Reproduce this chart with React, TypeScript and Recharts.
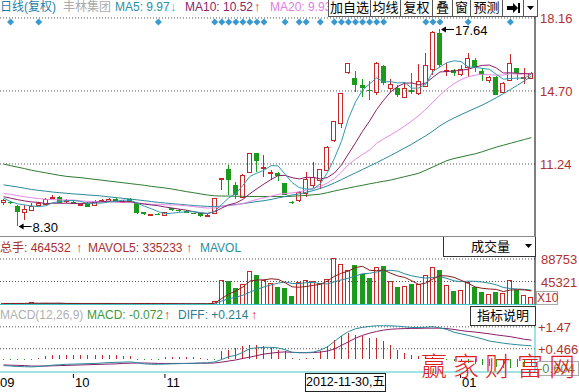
import React from "react";
import {
  ComposedChart,
  Bar,
  Line,
  XAxis,
  YAxis,
  ReferenceLine,
  ReferenceDot,
} from "recharts";

// daily candles, Sep 2012 - Jan 2013
const openP = [
  9.45, 9.45, 9.26, 8.93, 9.06, 9.30, 9.35, 9.62, 9.69, 9.48,
  9.45, 9.30, 9.40, 9.30, 9.52, 9.50, 9.60, 9.48, 9.57, 9.38,
  8.96, 8.84, 8.88, 8.84, 9.14, 9.06, 9.03, 8.90, 8.90, 8.78,
  8.90, 10.50, 10.99, 10.24, 9.69, 10.83, 11.75, 11.10, 10.85, 10.80,
  10.33, 9.43, 9.53, 9.86, 10.24, 10.48, 10.96, 12.38, 13.17, 15.59,
  15.30, 14.98, 14.74, 14.67, 15.89, 14.83, 14.86, 14.40, 14.75, 14.59,
  14.94, 15.75, 17.45, 15.68, 15.70, 15.51, 15.82, 16.17, 15.65, 15.25,
  15.38, 14.67, 15.20, 15.78, 15.34, 15.30,
];
const highP = [
  9.56, 9.47, 9.30, 9.30, 9.41, 9.42, 9.62, 9.75, 9.72, 9.57,
  9.47, 9.36, 9.42, 9.52, 9.60, 9.62, 9.62, 9.52, 9.64, 9.40,
  8.97, 8.88, 8.90, 8.98, 9.16, 9.10, 9.05, 8.92, 8.92, 8.90,
  9.64, 10.58, 11.19, 10.40, 10.75, 11.77, 11.77, 11.67, 10.95, 10.88,
  10.35, 9.47, 9.96, 10.88, 11.35, 11.02, 12.08, 13.30, 14.61, 16.03,
  15.66, 15.25, 15.19, 16.06, 15.91, 15.25, 15.00, 15.10, 15.54, 15.97,
  16.52, 17.55, 17.64, 16.03, 15.72, 15.93, 16.52, 16.25, 15.78, 15.40,
  15.40, 15.12, 16.45, 15.78, 15.78, 15.60,
];
const lowP = [
  9.30, 9.35, 8.30, 8.59, 9.00, 9.28, 9.33, 9.58, 9.40, 9.38,
  9.32, 9.28, 9.20, 9.28, 9.50, 9.48, 9.48, 9.44, 9.44, 8.88,
  8.82, 8.82, 8.80, 8.82, 9.03, 8.98, 8.93, 8.85, 8.75, 8.71,
  8.88, 10.01, 9.77, 9.60, 9.65, 10.80, 10.88, 10.64, 10.48, 10.45,
  9.75, 9.36, 9.45, 9.69, 10.10, 10.05, 10.90, 12.30, 12.93, 15.50,
  14.67, 14.43, 14.27, 14.50, 15.00, 14.67, 14.40, 14.35, 14.55, 14.50,
  14.90, 15.46, 15.85, 15.39, 15.39, 15.39, 15.38, 15.62, 15.19, 15.06,
  14.50, 14.65, 15.15, 15.22, 15.03, 15.28,
];
const closeP = [
  9.53, 9.38, 8.98, 9.09, 9.26, 9.38, 9.57, 9.69, 9.42, 9.51,
  9.34, 9.34, 9.22, 9.50, 9.55, 9.60, 9.50, 9.50, 9.45, 8.90,
  8.86, 8.87, 8.83, 8.96, 9.05, 9.05, 8.95, 8.88, 8.77, 8.80,
  9.61, 10.56, 10.45, 9.77, 10.72, 11.75, 11.35, 11.12, 10.88, 10.64,
  9.77, 9.40, 9.93, 10.53, 10.62, 10.99, 12.06, 13.28, 14.59, 16.01,
  14.98, 14.86, 14.72, 16.04, 15.07, 15.02, 14.54, 14.83, 14.67, 15.15,
  15.93, 17.50, 15.93, 15.70, 15.57, 15.73, 16.25, 15.85, 15.46, 15.38,
  14.51, 15.09, 16.01, 15.54, 15.36, 15.54,
];

const ma5 = [
  9.62, 9.46, 9.35, 9.30, 9.25, 9.22, 9.26, 9.40, 9.46, 9.51,
  9.51, 9.46, 9.37, 9.38, 9.39, 9.44, 9.47, 9.53, 9.52, 9.39,
  9.24, 9.12, 8.98, 8.88, 8.91, 8.95, 8.97, 8.98, 8.94, 8.89,
  9.00, 9.32, 9.64, 9.84, 10.22, 10.65, 10.81, 10.94, 11.16, 11.15,
  10.75, 10.36, 10.12, 10.05, 10.05, 10.30, 10.83, 11.50, 12.31, 13.39,
  14.18, 14.74, 15.03, 15.32, 15.13, 15.14, 15.08, 15.10, 14.83, 14.84,
  15.02, 15.62, 15.84, 16.04, 16.13, 16.09, 15.84, 15.82, 15.77, 15.73,
  15.49, 15.26, 15.29, 15.31, 15.31, 15.51,
];
const ma10 = [
  9.69, 9.62, 9.55, 9.49, 9.44, 9.42, 9.36, 9.38, 9.38, 9.38,
  9.37, 9.36, 9.39, 9.42, 9.45, 9.48, 9.47, 9.45, 9.45, 9.39,
  9.34, 9.30, 9.26, 9.20, 9.15, 9.10, 9.05, 8.98, 8.91, 8.90,
  8.98, 9.15, 9.31, 9.39, 9.56, 9.83, 10.07, 10.29, 10.50, 10.69,
  10.70, 10.59, 10.53, 10.61, 10.60, 10.53, 10.60, 10.81, 11.19, 11.72,
  12.24, 12.79, 13.27, 13.82, 14.26, 14.66, 14.91, 15.07, 15.08, 14.99,
  15.08, 15.35, 15.60, 15.62, 15.65, 15.68, 15.73, 15.83, 15.91, 15.93,
  15.79, 15.55, 15.56, 15.54, 15.52, 15.50,
];
const ma20 = [
  9.85, 9.80, 9.74, 9.69, 9.64, 9.60, 9.57, 9.55, 9.54, 9.53,
  9.53, 9.49, 9.47, 9.46, 9.45, 9.45, 9.42, 9.42, 9.42, 9.39,
  9.36, 9.33, 9.33, 9.31, 9.30, 9.29, 9.26, 9.22, 9.18, 9.15,
  9.16, 9.23, 9.29, 9.30, 9.36, 9.47, 9.56, 9.64, 9.71, 9.80,
  9.84, 9.87, 9.92, 10.00, 10.08, 10.18, 10.34, 10.55, 10.85, 11.21,
  11.47, 11.69, 11.90, 12.22, 12.43, 12.62, 12.82, 13.04, 13.28, 13.54,
  13.84, 14.17, 14.50, 14.80, 15.05, 15.24, 15.37, 15.45, 15.49, 15.47,
  15.45, 15.45, 15.52, 15.49, 15.51, 15.53,
];
const ma30 = [
  10.25, 10.20, 10.15, 10.09, 10.03, 9.99, 9.95, 9.91, 9.88, 9.85,
  9.82, 9.80, 9.77, 9.75, 9.72, 9.68, 9.65, 9.61, 9.58, 9.54,
  9.50, 9.46, 9.42, 9.39, 9.36, 9.33, 9.30, 9.27, 9.25, 9.23,
  9.22, 9.24, 9.27, 9.32, 9.36, 9.41, 9.46, 9.50, 9.56, 9.63,
  9.70, 9.77, 9.82, 9.90, 9.98, 10.08, 10.20, 10.34, 10.50, 10.66,
  10.82, 10.98, 11.14, 11.30, 11.47, 11.64, 11.82, 12.00, 12.18, 12.38,
  12.58, 12.80, 13.05, 13.25, 13.42, 13.58, 13.73, 13.88, 14.03, 14.20,
  14.38, 14.57, 14.77, 14.97, 15.18, 15.40,
];
const ma120 = [
  11.24, 11.16, 11.09, 11.02, 10.94, 10.88, 10.82, 10.76, 10.70, 10.65,
  10.62, 10.59, 10.55, 10.51, 10.47, 10.43, 10.39, 10.35, 10.31, 10.27,
  10.23, 10.18, 10.14, 10.10, 10.05, 9.99, 9.93, 9.88, 9.82, 9.77,
  9.73, 9.72, 9.72, 9.71, 9.71, 9.70, 9.70, 9.70, 9.70, 9.70,
  9.70, 9.71, 9.73, 9.75, 9.78, 9.81, 9.88, 9.96, 10.03, 10.10,
  10.17, 10.23, 10.30, 10.36, 10.42, 10.48, 10.56, 10.64, 10.72, 10.80,
  10.95, 11.10, 11.25, 11.40, 11.50, 11.57, 11.65, 11.72, 11.82, 11.93,
  12.04, 12.13, 12.22, 12.31, 12.40, 12.49,
];

// volume, axis units (x10)
const volume = [
  3000, 2500, 3600, 2800, 5200, 2400, 3300, 3000, 3400, 2000,
  2600, 2200, 2800, 3400, 2300, 3000, 2200, 2400, 2600, 4200,
  3000, 2000, 2200, 2600, 3000, 2000, 2200, 1800, 3000, 2500,
  7900, 47400, 45400, 32200, 40800, 65100, 57200, 47400, 42000, 35500,
  32200, 17800, 44100, 48700, 46450, 42100, 49400, 90200, 78300, 67100,
  77000, 60500, 52000, 73700, 75000, 45400, 34200, 37500, 40800, 40800,
  58600, 73700, 68400, 38800, 27600, 29600, 44100, 34200, 25700, 21100,
  25700, 23000, 48700, 29600, 19100, 15800,
];
const mavol5 = [
  2900, 2850, 2900, 2950, 3400, 3300, 3400, 3300, 3500, 2800,
  2850, 2700, 2600, 2700, 2650, 2750, 2650, 2650, 2500, 2850,
  2850, 2850, 2800, 2800, 2600, 2550, 2400, 2300, 2400, 2300,
  3500, 12500, 21200, 27100, 34700, 46200, 48200, 48600, 50500, 49500,
  42900, 35000, 34300, 35700, 37800, 39800, 46100, 55300, 61300, 65400,
  72400, 74600, 67000, 66100, 67600, 61300, 56100, 53200, 46600, 39700,
  42400, 50300, 56500, 56100, 53400, 47600, 41700, 34900, 32200, 30900,
  30100, 25900, 28800, 29600, 29200, 27200,
];
const mavol10 = [
  3000, 3000, 3000, 3050, 3100, 3100, 3150, 3100, 3150, 3100,
  3050, 3000, 3000, 3000, 3050, 3000, 2700, 2650, 2650, 2700,
  2750, 2750, 2700, 2750, 2650, 2700, 2600, 2550, 2600, 2550,
  3150, 7650, 12000, 14900, 18800, 24800, 30300, 34900, 38800, 42100,
  44500, 41600, 41400, 43100, 43700, 41300, 40500, 44800, 48500, 51600,
  56100, 60400, 61200, 63700, 66500, 66900, 65400, 60100, 56300, 53700,
  51900, 53200, 54800, 51300, 46600, 45000, 46000, 45700, 44200, 42200,
  38900, 33800, 31800, 30900, 30100, 28700,
];

// MACD(12,26,9)
const diff = [
  -0.31, -0.33, -0.35, -0.36, -0.37, -0.35, -0.32, -0.29, -0.27, -0.25,
  -0.24, -0.23, -0.22, -0.21, -0.19, -0.17, -0.16, -0.15, -0.14, -0.18,
  -0.23, -0.25, -0.25, -0.24, -0.23, -0.22, -0.21, -0.2, -0.19, -0.18,
  -0.14, -0.03, 0.1, 0.16, 0.3, 0.47, 0.51, 0.53, 0.53, 0.5,
  0.42, 0.3, 0.28, 0.29, 0.31, 0.4, 0.55, 0.8, 1.05, 1.25,
  1.38, 1.45, 1.49, 1.52, 1.52, 1.52, 1.5, 1.47, 1.44, 1.44,
  1.45, 1.48, 1.42, 1.35, 1.22, 1.15, 1.08, 1.0, 0.92, 0.82,
  0.77, 0.72, 0.68, 0.65, 0.62, 0.6,
];
const dea = [
  -0.28, -0.29, -0.3, -0.31, -0.33, -0.33, -0.33, -0.32, -0.31, -0.3,
  -0.29, -0.28, -0.27, -0.26, -0.25, -0.24, -0.23, -0.21, -0.2, -0.19,
  -0.19, -0.2, -0.21, -0.21, -0.21, -0.21, -0.21, -0.21, -0.2, -0.2,
  -0.19, -0.15, -0.1, -0.05, 0.02, 0.08, 0.15, 0.22, 0.26, 0.3,
  0.32, 0.3, 0.29, 0.28, 0.29, 0.31, 0.36, 0.45, 0.62, 0.78,
  0.95, 1.08, 1.18, 1.26, 1.32, 1.36, 1.38, 1.39, 1.4, 1.4,
  1.41, 1.41, 1.41, 1.39, 1.35, 1.3, 1.26, 1.23, 1.19, 1.15,
  1.1, 1.06, 1.02, 0.96, 0.9, 0.86,
];
const macdBar = [
  -0.02, -0.03, -0.03, -0.02, -0.02, 0.06, 0.14, 0.16, 0.18, 0.18,
  0.17, 0.17, 0.16, 0.17, 0.18, 0.17, 0.16, 0.14, 0.12, -0.02,
  -0.02, -0.02, -0.02, 0.08, 0.09, 0.09, 0.08, 0.07, 0.06, -0.02,
  -0.02, 0.35, 0.42, 0.5, 0.57, 0.65, 0.65, 0.57, 0.5, 0.42,
  0.35, 0.03, -0.02, 0.02, 0.04, 0.35, 0.57, 0.88, 1.07, 1.18,
  1.1, 1.03, 0.95, 0.95, 0.8, 0.65, 0.42, 0.27, 0.19, 0.12,
  0.07, 0.1, 0.04, -0.05, -0.1, -0.15, -0.2, -0.25, -0.3, -0.34,
  -0.38, -0.4, -0.4, -0.39, -0.38, -0.36,
];

// days with info markers (blue diamonds)
const eventDays = [
  1, 5, 22, 30, 31, 32, 33, 34, 35, 36, 37, 40, 42, 43, 45,
  47, 48, 49, 50, 51, 52, 53, 54, 60, 61, 62, 66, 72,
];
const monthTicks = [0, 10, 23, 65];
const monthNames = ["09", "10", "11", "01"];
const priceTicks = [18.16, 14.7, 11.24];
const volTicks = [88753, 45321];
const macdTicks = [1.47, 0.466, -0.604];

const RED = "#c62828";
const GREEN = "#1b9a1b";
const AXIS_RED = "#b0302f";
const SANS = '"Liberation Sans", Arial, "Noto Sans CJK SC", sans-serif';
const MARK_Y = 17.97;

const rows = closeP.map((c, i) => ({
  i,
  open: openP[i],
  high: highP[i],
  low: lowP[i],
  close: c,
  span: [lowP[i], highP[i]],
  ma5: ma5[i],
  ma10: ma10[i],
  ma20: ma20[i],
  ma30: ma30[i],
  ma120: ma120[i],
  vol: volume[i],
  mavol5: mavol5[i],
  mavol10: mavol10[i],
  diff: diff[i],
  dea: dea[i],
  macd: macdBar[i],
}));

const peakIdx = highP.indexOf(Math.max(...highP));
const lowIdx = lowP.indexOf(Math.min(...lowP));

function Candle(props: any) {
  const { x, y, width, height, payload } = props;
  if (x == null || !payload) return null;
  const { open, close, high, low } = payload;
  const top = Math.min(y, y + height);
  const h = Math.abs(height);
  const k = h / (high - low);
  const yO = top + (high - open) * k;
  const yC = top + (high - close) * k;
  const bTop = Math.round(Math.min(yO, yC));
  const bH = Math.max(Math.round(Math.abs(yO - yC)), 1);
  const up = close >= open;
  const c = up ? RED : GREEN;
  const cx = Math.floor(x + width / 2) + 0.5;
  const left = Math.floor(x) + 0.5;
  const w = Math.round(width) - 1;
  return (
    <g shapeRendering="crispEdges">
      <line x1={cx} x2={cx} y1={top} y2={top + h} stroke={c} />
      {up ? (
        <rect x={left} y={bTop + 0.5} width={w} height={bH} fill="#fff" stroke={c} />
      ) : (
        <rect x={left - 0.5} y={bTop} width={w + 1} height={bH} fill={c} />
      )}
    </g>
  );
}

function VolBar(props: any) {
  const { x, y, width, height, payload } = props;
  if (x == null || !payload) return null;
  const up = payload.close >= payload.open;
  const top = Math.round(Math.min(y, y + height));
  const h = Math.max(Math.round(Math.abs(height)), 1);
  const left = Math.floor(x) + 0.5;
  const w = Math.round(width) - 1;
  return up ? (
    <rect x={left} y={top + 0.5} width={w} height={h} fill="#fff" stroke={RED} shapeRendering="crispEdges" />
  ) : (
    <rect x={left - 0.5} y={top} width={w + 1} height={h + 1} fill={GREEN} shapeRendering="crispEdges" />
  );
}

function MacdStick(props: any) {
  const { x, y, width, height, payload } = props;
  if (x == null || !payload) return null;
  const top = Math.min(y, y + height);
  const h = Math.max(Math.abs(height), 1);
  const cx = Math.floor(x + width / 2) + 0.5;
  return (
    <line
      x1={cx}
      x2={cx}
      y1={top}
      y2={top + h}
      stroke={payload.macd >= 0 ? RED : GREEN}
      shapeRendering="crispEdges"
    />
  );
}

const Diamond = (p: any) => (
  <polygon
    points={`${p.cx},${p.cy - 3.5} ${p.cx + 3.5},${p.cy} ${p.cx},${p.cy + 3.5} ${p.cx - 3.5},${p.cy}`}
    fill="#3a9ad0"
  />
);

function ArrowNote(label: string) {
  return (p: any) => {
    const x0 = p.cx + 1;
    const cy = Math.round(p.cy) + 0.5;
    return (
      <g>
        <polygon points={`${x0},${cy} ${x0 + 5},${cy - 3} ${x0 + 5},${cy + 3}`} fill="#000" />
        <line x1={x0 + 4} y1={cy} x2={x0 + 13} y2={cy} stroke="#000" />
        <text x={x0 + 14} y={cy + 5} fontSize={13} fill="#000" fontFamily={SANS}>
          {label}
        </text>
      </g>
    );
  };
}

const PriceTick = (p: any) => (
  <text x={540} y={p.y + 5} fontSize={13} fill={AXIS_RED} fontFamily={SANS}>
    {Number(p.payload.value).toFixed(2)}
  </text>
);

const VolTick = (p: any) => (
  <text x={541} y={p.y + 5} fontSize={13} fill={AXIS_RED} fontFamily={SANS}>
    {p.payload.value}
  </text>
);

const MacdTick = (p: any) => {
  const v = p.payload.value;
  const txt = v > 0 ? `+${v}` : `${v}`;
  const bottom = p.y > 60;
  const yy = bottom ? 63 : p.y;
  return (
    <g>
      {bottom && <rect x={537.5} y={56.5} width={41} height={14} fill="#fff" stroke="#aaa" />}
      <text x={538} y={yy + 5} fontSize={13} fill={bottom ? "#6a8a4a" : AXIS_RED} fontFamily={SANS}>
        {txt}
      </text>
    </g>
  );
};

const MonthTick = (p: any) => {
  const k = monthTicks.indexOf(Number(p.payload.value));
  const name = monthNames[k];
  if (k === 0) {
    return (
      <text x={0} y={p.y + 15} fontSize={13} fill="#000" fontFamily={SANS}>
        {name}
      </text>
    );
  }
  return (
    <g>
      <line x1={p.x - 0.5} x2={p.x - 0.5} y1={p.y + 2} y2={p.y + 6} stroke="#000" />
      <text x={p.x + 1} y={p.y + 15} fontSize={13} fill="#000" fontFamily={SANS}>
        {name}
      </text>
    </g>
  );
};

const abs = (left: number, top: number, extra: any = {}) => ({
  position: "absolute" as const,
  left,
  top,
  whiteSpace: "nowrap" as const,
  ...extra,
});

const upArrow = (left: number, top: number) => (
  <div style={abs(left, top, { color: "#e01818", fontWeight: 700, fontSize: 13, lineHeight: "14px" })}>↑</div>
);

const buttons = [
  { t: "加自选", w: 42 },
  { t: "均线", w: 30 },
  { t: "复权", w: 32 },
  { t: "叠", w: 20 },
  { t: "窗", w: 18 },
  { t: "预测", w: 32 },
  { t: "", w: 21 },
  { t: "", w: 14 },
];

export default function App() {
  let bx = 328;
  return (
    <div
      style={{
        position: "absolute",
        left: 0,
        top: 0,
        width: 579,
        height: 392,
        background: "#fff",
        overflow: "hidden",
        fontFamily: SANS,
      }}
    >
      {/* price panel */}
      <div style={abs(0, 0)}>
        <ComposedChart width={579} height={237} data={rows} margin={{ top: 0, right: 0, bottom: 0, left: 0 }}>
          <XAxis dataKey="i" hide />
          <YAxis
            orientation="right"
            width={44}
            type="number"
            domain={[7.78, 19.01]}
            allowDataOverflow
            ticks={priceTicks}
            interval={0}
            tick={(p: any) => <PriceTick {...p} />}
            tickLine={false}
            axisLine={{ stroke: "#000" }}
          />
          {priceTicks.map((v) => (
            <ReferenceLine key={v} y={v} stroke="#555" strokeDasharray="1 2" />
          ))}
          <Bar dataKey="span" barSize={5} shape={(p: any) => <Candle {...p} />} isAnimationActive={false} />
          <Line dataKey="ma120" stroke="#2e7a2e" dot={false} strokeWidth={1} isAnimationActive={false} />
          <Line dataKey="ma30" stroke="#2a8a9c" dot={false} strokeWidth={1} isAnimationActive={false} />
          <Line dataKey="ma20" stroke="#e68ae6" dot={false} strokeWidth={1} isAnimationActive={false} />
          <Line dataKey="ma10" stroke="#8a1f6a" dot={false} strokeWidth={1} isAnimationActive={false} />
          <Line dataKey="ma5" stroke="#2e9bb0" dot={false} strokeWidth={1} isAnimationActive={false} />
          {eventDays.map((d) => (
            <ReferenceDot key={d} x={d} y={MARK_Y} shape={Diamond} />
          ))}
          <ReferenceDot x={peakIdx} y={highP[peakIdx]} shape={ArrowNote(highP[peakIdx].toFixed(2))} />
          <ReferenceDot x={lowIdx} y={lowP[lowIdx]} shape={ArrowNote(lowP[lowIdx].toFixed(2))} />
        </ComposedChart>
      </div>

      {/* volume panel */}
      <div style={abs(0, 237)}>
        <ComposedChart width={579} height={68} data={rows} margin={{ top: 0, right: 0, bottom: 0, left: 0 }}>
          <XAxis dataKey="i" hide />
          <YAxis
            orientation="right"
            width={44}
            type="number"
            domain={[0, 131200]}
            allowDataOverflow
            ticks={volTicks}
            interval={0}
            tick={(p: any) => <VolTick {...p} />}
            tickLine={false}
            axisLine={{ stroke: "#000" }}
          />
          {volTicks.map((v) => (
            <ReferenceLine key={v} y={v} stroke="#555" strokeDasharray="1 2" />
          ))}
          <Bar dataKey="vol" barSize={5} shape={(p: any) => <VolBar {...p} />} isAnimationActive={false} />
          <Line dataKey="mavol10" stroke="#2a8a9c" dot={false} strokeWidth={1} isAnimationActive={false} />
          <Line dataKey="mavol5" stroke="#8b1a1a" dot={false} strokeWidth={1} isAnimationActive={false} />
        </ComposedChart>
      </div>

      {/* MACD panel */}
      <div style={abs(0, 305)}>
        <ComposedChart width={579} height={87} data={rows} margin={{ top: 0, right: 0, bottom: 0, left: 0 }}>
          <XAxis
            dataKey="i"
            height={20}
            ticks={monthTicks}
            interval={0}
            tick={(p: any) => <MonthTick {...p} />}
            tickLine={false}
            tickSize={0}
            tickMargin={0}
            axisLine={{ stroke: "#3cc8c8" }}
          />
          <YAxis
            orientation="right"
            width={44}
            type="number"
            domain={[-0.604, 2.474]}
            allowDataOverflow
            ticks={macdTicks}
            interval={0}
            tick={(p: any) => <MacdTick {...p} />}
            tickLine={false}
            axisLine={{ stroke: "#3cc8c8" }}
          />
          {macdTicks.slice(0, 2).map((v) => (
            <ReferenceLine key={v} y={v} stroke="#555" strokeDasharray="1 2" />
          ))}
          <Bar dataKey="macd" barSize={1} shape={(p: any) => <MacdStick {...p} />} isAnimationActive={false} />
          <Line dataKey="dea" stroke="#8a1f6a" dot={false} strokeWidth={1} isAnimationActive={false} />
          <Line dataKey="diff" stroke="#2a8a9c" dot={false} strokeWidth={1} isAnimationActive={false} />
        </ComposedChart>
      </div>

      {/* panel borders */}
      <div style={abs(0, 236, { width: 535, height: 1, background: "#8a8a8a" })} />
      <div style={abs(0, 304, { width: 535, height: 1, background: "#3cc8c8" })} />

      {/* top header */}
      <div style={abs(0, 0, { fontSize: 12, lineHeight: "14px", color: "#1f7fa8" })}>日线(复权)</div>
      <div style={abs(63, 0, { fontSize: 12, lineHeight: "14px", color: "#aaa" })}>丰林集团</div>
      <div style={abs(115, 0, { fontSize: 12, lineHeight: "14px", color: "#2a8fa0" })}>MA5: 9.97</div>
      <div style={abs(170, 0, { fontSize: 13, lineHeight: "14px", color: "#40c8e0", fontWeight: 700 })}>↓</div>
      <div style={abs(185, 0, { fontSize: 12, lineHeight: "14px", color: "#8e2465" })}>MA10: 10.52</div>
      {upArrow(254, 0)}
      <div style={abs(270, 0, { fontSize: 12, lineHeight: "14px", color: "#e27de2" })}>MA20: 9.93</div>
      {buttons.map((b, k) => {
        const left = bx;
        bx += b.w;
        return (
          <div
            key={k}
            style={abs(left, 0, {
              width: b.w - 1,
              height: 16,
              border: "1px solid #555",
              borderTop: "none",
              background: "#fff",
              fontSize: 13,
              lineHeight: "16px",
              textAlign: "center",
              color: "#000",
            })}
          >
            {b.t}
            {k === 6 && (
              <svg width={20} height={16} style={{ position: "absolute", left: 0, top: 0 }}>
                <rect x={4} y={6} width={6} height={4} fill="#000" />
                <polygon points="10,3 15,8 10,13" fill="#000" />
                <rect x={15} y={3} width={2} height={10} fill="#000" />
              </svg>
            )}
            {k === 7 && (
              <svg width={13} height={16} style={{ position: "absolute", left: 0, top: 0 }}>
                <polygon points="3,6 10,6 6.5,10" fill="#000" />
              </svg>
            )}
          </div>
        );
      })}

      {/* volume header */}
      <div style={abs(0, 241, { fontSize: 12, lineHeight: "14px", color: "#a83030" })}>总手: 464532</div>
      {upArrow(76, 241)}
      <div style={abs(88, 241, { fontSize: 12, lineHeight: "14px", color: "#a83030" })}>MAVOL5: 335233</div>
      {upArrow(186, 241)}
      <div style={abs(200, 241, { fontSize: 12, lineHeight: "14px", color: "#2a8fa0" })}>MAVOL</div>
      <div
        style={abs(443, 237, {
          width: 91,
          height: 19,
          border: "1px solid #333",
          borderTop: "none",
          background: "#fff",
          fontSize: 13,
          lineHeight: "19px",
          color: "#000",
        })}
      >
        <span style={{ position: "absolute", left: 27 }}>成交量</span>
        <svg width={10} height={19} style={{ position: "absolute", left: 80, top: 0 }}>
          <polygon points="1,7 8,7 4.5,11" fill="#000" />
        </svg>
      </div>
      <div
        style={abs(536, 291, {
          width: 20,
          height: 12,
          border: "1px solid #aaa",
          fontSize: 12,
          lineHeight: "12px",
          color: "#a83030",
        })}
      >
        X10
      </div>

      {/* MACD header */}
      <div style={abs(0, 308, { fontSize: 12, lineHeight: "14px", color: "#b0b0b0" })}>MACD(12,26,9)</div>
      <div style={abs(87, 308, { fontSize: 12, lineHeight: "14px", color: "#3a9a3a" })}>MACD: -0.072</div>
      {upArrow(164, 308)}
      <div style={abs(178, 308, { fontSize: 12, lineHeight: "14px", color: "#2a8090" })}>DIFF: +0.214</div>
      {upArrow(251, 308)}
      <div
        style={abs(470, 306, {
          width: 64,
          height: 18,
          border: "1px solid #333",
          background: "#fff",
          fontSize: 13,
          lineHeight: "18px",
          textAlign: "center",
          color: "#000",
        })}
      >
        指标说明
      </div>

      {/* cursor date */}
      <div
        style={abs(305, 373, {
          width: 79,
          height: 17,
          border: "1px solid #222",
          background: "#fff",
          fontSize: 12.5,
          lineHeight: "17px",
          textAlign: "center",
          color: "#000",
        })}
      >
        2012-11-30,五
      </div>

      {/* watermark */}
      <div
        style={abs(421, 350, {
          fontSize: 26,
          lineHeight: "30px",
          letterSpacing: 6,
          color: "#e02020",
          fontFamily: '"Noto Sans CJK SC", sans-serif',
          fontWeight: 300,
        })}
      >
        赢家财富网
      </div>
    </div>
  );
}
